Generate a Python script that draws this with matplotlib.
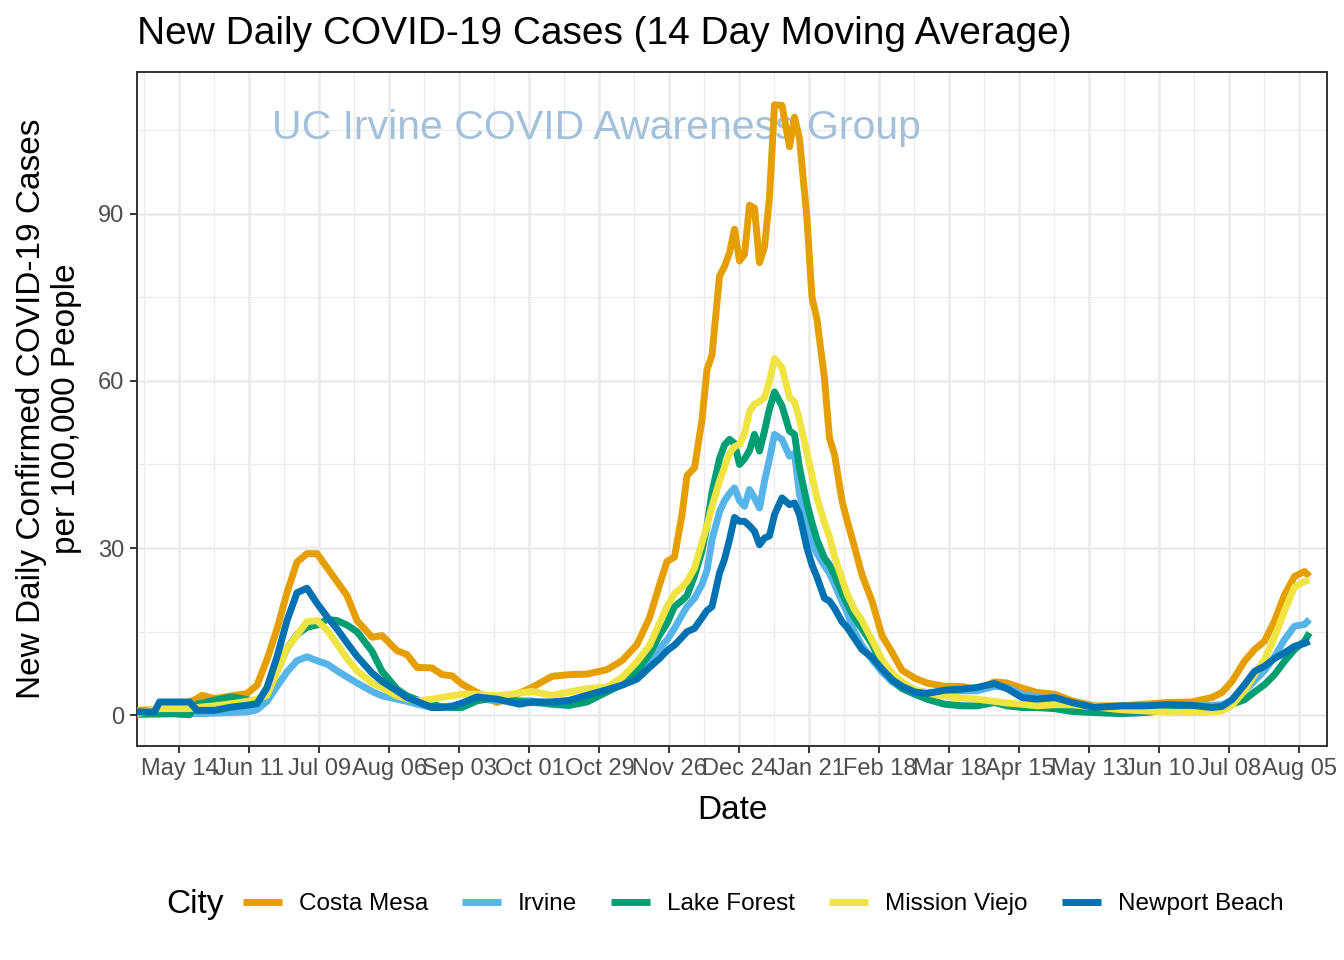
#covid orange county - 14 day moving average
import numpy as np
import pandas as pd
import matplotlib
matplotlib.use("Agg")
import matplotlib.pyplot as plt
import matplotlib.dates as mdates

plt.rcParams['font.family'] = ['Liberation Sans', 'DejaVu Sans']

#Datos - dias desde 2020-04-27
start = pd.Timestamp("2020-04-27")
days = [0, 7, 9, 14, 21, 24, 26, 31, 38, 44,
        48, 52, 56, 60, 64, 68, 72, 76, 80, 84,
        88, 94, 98, 104, 108, 112, 118, 122, 126, 130,
        136, 144, 153, 158, 166, 173, 180, 188, 194, 200,
        205, 209, 212, 215, 218, 220, 223, 226, 228, 230,
        233, 235, 237, 239, 241, 243, 245, 247, 249, 251,
        253, 255, 258, 261, 263, 265, 268, 270, 272, 275,
        277, 279, 282, 284, 287, 290, 294, 298, 302, 306,
        311, 316, 323, 330, 336, 343, 348, 354, 360, 367,
        374, 383, 394, 403, 412, 422, 430, 434, 438, 443,
        447, 451, 455, 459, 463, 467, 469]

costa_mesa = [0.9, 1.0, 1.1, 1.3, 2.4, 3.0, 3.6, 3.0, 3.5, 3.9,
              5.4, 10.0, 15.5, 22.0, 27.5, 29.0, 29.0, 26.5, 24.0, 21.5,
              17.0, 14.0, 14.3, 11.6, 10.9, 8.6, 8.5, 7.3, 7.1, 5.6,
              4.1, 2.3, 4.0, 5.0, 7.0, 7.3, 7.4, 8.2, 9.8, 12.7,
              17.5, 23.4, 27.6, 28.4, 36.0, 43.0, 44.4, 53.0, 62.0, 64.6,
              78.8, 80.5, 83.0, 87.2, 81.5, 82.7, 91.5, 91.0, 81.2, 84.0,
              93.0, 109.5, 109.4, 102.0, 107.3, 103.5, 89.0, 75.0, 71.0, 60.4,
              49.7, 46.8, 38.5, 35.0, 30.2, 25.2, 20.5, 14.3, 11.3, 8.1,
              6.7, 5.8, 5.2, 5.2, 4.6, 6.0, 5.8, 4.9, 4.1, 3.8,
              2.6, 1.7, 1.7, 2.0, 2.3, 2.4, 3.2, 4.1, 6.1, 9.7,
              11.8, 13.3, 16.9, 21.6, 24.9, 25.8, 24.9]

irvine = [0.1, 0.2, 0.2, 0.3, 0.3, 0.3, 0.3, 0.4, 0.5, 0.6,
          1.0, 2.5, 5.2, 7.8, 9.8, 10.5, 9.8, 9.2, 8.0, 6.9,
          5.8, 4.3, 3.5, 2.9, 2.5, 2.0, 1.4, 1.5, 1.7, 2.0,
          3.0, 2.6, 2.6, 2.6, 1.9, 1.8, 2.7, 4.3, 5.8, 7.8,
          10.2, 12.0, 13.5, 15.6, 18.0, 19.5, 21.0, 23.5, 26.0, 31.5,
          36.5, 38.5, 39.8, 40.8, 38.5, 37.5, 40.5, 39.0, 37.2, 42.0,
          46.0, 50.4, 49.5, 46.5, 47.0, 39.6, 35.0, 31.0, 29.0, 26.8,
          25.5, 23.5, 20.4, 18.5, 15.0, 12.5, 10.0, 7.8, 6.0, 5.0,
          4.4, 4.1, 4.2, 4.4, 4.4, 5.2, 5.0, 3.8, 3.3, 2.7,
          2.0, 1.6, 1.3, 1.1, 1.3, 1.6, 1.8, 1.9, 2.6, 4.4,
          6.2, 8.0, 10.5, 13.6, 16.0, 16.3, 17.2]

lake_forest = [0.3, 0.3, 0.3, 0.3, 0.1, 2.0, 2.2, 2.7, 3.3, 2.8,
               2.4, 4.2, 8.0, 12.0, 14.5, 15.8, 16.2, 17.2, 17.0, 16.2,
               15.0, 11.5, 7.9, 4.7, 3.5, 2.8, 2.0, 1.5, 1.4, 1.4,
               2.6, 3.2, 2.5, 2.3, 2.1, 1.8, 2.4, 4.2, 5.5, 8.0,
               11.0, 14.4, 16.5, 19.5, 20.6, 21.5, 25.0, 29.5, 34.0, 40.0,
               46.0, 48.5, 49.5, 48.8, 45.0, 46.0, 47.5, 50.4, 47.4, 51.0,
               55.0, 58.0, 55.5, 51.0, 50.4, 44.4, 38.0, 34.5, 31.5, 28.2,
               27.0, 25.2, 22.0, 20.0, 17.5, 15.5, 12.8, 9.0, 6.4, 4.8,
               3.8, 2.9, 2.0, 1.7, 1.7, 2.3, 1.7, 1.4, 1.4, 1.2,
               0.7, 0.5, 0.3, 0.5, 0.9, 1.1, 1.3, 1.5, 2.0, 2.8,
               4.2, 5.5, 7.3, 9.7, 11.8, 13.3, 14.8]

mission_viejo = [0.3, 1.0, 1.2, 1.2, 1.2, 1.4, 1.5, 1.7, 2.1, 2.5,
                 2.9, 3.6, 7.8, 12.0, 14.4, 16.8, 17.0, 15.3, 12.8, 10.2,
                 8.0, 5.8, 5.0, 3.5, 3.0, 2.6, 2.9, 3.2, 3.5, 3.8,
                 3.8, 3.5, 4.0, 4.3, 3.6, 4.2, 4.8, 5.1, 6.8, 9.6,
                 12.5, 16.5, 19.5, 21.8, 23.0, 24.0, 26.4, 31.0, 34.0, 37.5,
                 42.0, 44.5, 47.0, 48.2, 48.6, 50.5, 54.5, 55.8, 56.3, 57.0,
                 60.0, 64.0, 62.4, 57.0, 56.2, 53.0, 47.0, 43.0, 39.0, 34.5,
                 32.0, 28.5, 24.5, 21.8, 19.0, 17.0, 13.5, 10.0, 7.6, 6.0,
                 4.6, 4.0, 3.4, 3.1, 2.9, 2.5, 2.2, 2.0, 1.7, 1.9,
                 1.9, 1.5, 1.0, 0.8, 0.6, 0.5, 0.6, 0.8, 1.8, 4.4,
                 7.3, 10.0, 14.0, 18.7, 23.0, 24.0, 24.3]

newport_beach = [0.6, 0.6, 2.4, 2.4, 2.4, 0.9, 0.9, 0.9, 1.5, 1.8,
                 2.1, 5.0, 10.5, 17.0, 22.0, 22.8, 20.1, 17.7, 15.5, 13.0,
                 10.6, 7.6, 6.1, 4.4, 3.2, 2.5, 1.4, 1.4, 1.6, 2.2,
                 3.3, 2.9, 2.0, 2.4, 2.4, 2.7, 3.6, 4.6, 5.4, 6.5,
                 8.6, 10.2, 11.6, 12.6, 14.0, 15.0, 15.6, 17.5, 18.8, 19.5,
                 25.5, 28.0, 31.5, 35.5, 34.8, 34.8, 34.0, 33.0, 30.6, 31.8,
                 32.2, 36.0, 39.0, 37.8, 38.1, 36.0, 30.0, 27.0, 24.8, 21.0,
                 20.5, 19.2, 16.8, 15.8, 13.8, 11.8, 10.4, 8.3, 6.4, 5.2,
                 4.2, 3.9, 4.5, 4.7, 5.0, 5.7, 4.8, 3.2, 2.9, 3.2,
                 2.3, 1.4, 1.7, 1.7, 1.9, 1.8, 1.4, 1.6, 2.8, 5.5,
                 7.9, 8.8, 10.2, 11.2, 12.4, 12.9, 13.3]

cities = ["Costa Mesa", "Irvine", "Lake Forest", "Mission Viejo", "Newport Beach"]
colors = ["#E69F00", "#56B4E9", "#009E73", "#F0E442", "#0072B2"]
series = [costa_mesa, irvine, lake_forest, mission_viejo, newport_beach]

dates = start + pd.to_timedelta(days, unit="D")

fig = plt.figure(figsize=(13.44, 9.6), dpi=100)
ax = fig.add_axes([0.10193, 0.22292, 0.88542, 0.70208])

handles = []
for name, col, vals in zip(cities, colors, series):
    ln, = ax.plot(dates, vals, color=col, linewidth=5.0, label=name,
                  solid_capstyle="butt", solid_joinstyle="round", zorder=3)
    handles.append(ln)

#marca de agua
ax.text(0.3857, 0.917, "UC Irvine COVID Awareness Group", transform=ax.transAxes,
        fontsize=29.5, color="#A2C0D9", ha="center", va="center", zorder=2)

#ejes
ax.set_xlim(pd.Timestamp("2020-04-27"), pd.Timestamp("2021-08-16"))
ax.set_ylim(-5.5, 115.4)
ax.set_yticks([0, 30, 60, 90])
ax.set_yticks([15, 45, 75, 105], minor=True)
ax.set_xticks(pd.date_range("2020-05-14", "2021-08-05", freq="28D"))
ax.set_xticks(pd.date_range("2020-04-30", "2021-07-22", freq="28D"), minor=True)
ax.xaxis.set_major_formatter(mdates.DateFormatter("%b %d"))

ax.grid(which="major", color="#EBEBEB", linewidth=1.8)
ax.grid(which="minor", color="#EBEBEB", linewidth=0.9)
ax.set_axisbelow(True)
for s in ax.spines.values():
    s.set_color("#333333")
    s.set_linewidth(1.4)
ax.tick_params(which="major", length=5, width=1.4, color="#333333",
               labelcolor="#4D4D4D", labelsize=17, pad=4)
ax.tick_params(which="minor", length=0)

ax.set_title("New Daily COVID-19 Cases (14 Day Moving Average)", loc="left",
             fontsize=28, pad=20)
ax.set_xlabel("Date", fontsize=24, va="center")
ax.xaxis.set_label_coords(0.5, -0.095)
ax.set_ylabel("New Daily Confirmed COVID-19 Cases\nper 100,000 People", fontsize=24,
              va="center", multialignment="center", linespacing=1.15)
ax.yaxis.set_label_coords(-0.074, 0.5)

#leyenda
fig.text(166 / 1344, 1 - 904 / 960, "City", fontsize=24, ha="left", va="center")
fig.legend(handles, cities, loc="center left", bbox_to_anchor=(243 / 1344, 1 - 904 / 960),
           ncol=5, frameon=False, fontsize=17.5, handlelength=1.6, handletextpad=0.7,
           columnspacing=1.4, borderpad=0, borderaxespad=0)

fig.savefig("out.png", dpi=100)
